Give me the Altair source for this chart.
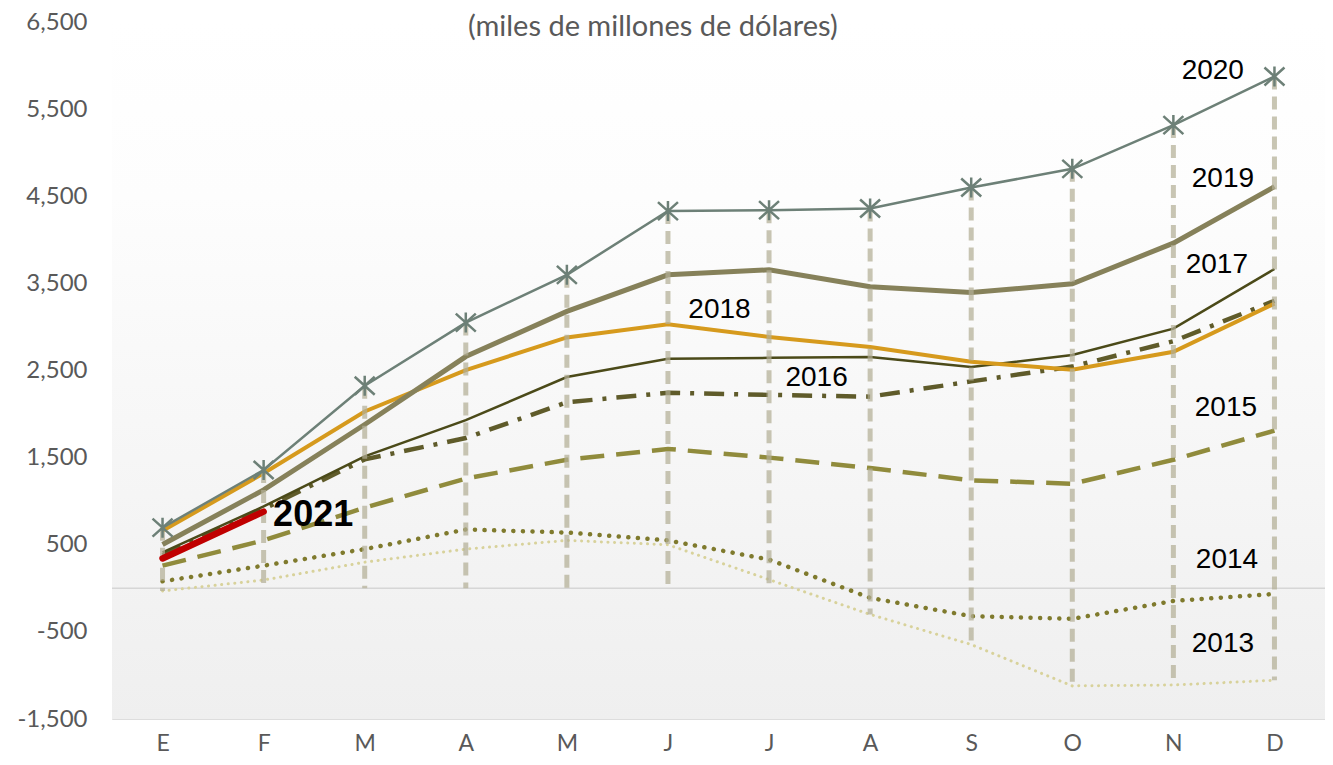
import altair as alt
import pandas as pd

# ---------------- data ----------------
months = ["E", "F", "M", "A", "M", "J", "J", "A", "S", "O", "N", "D"]

y2013 = [-30, 95, 300, 450, 550, 500, 100, -300, -645, -1120, -1110, -1055]
y2014 = [80, 260, 450, 675, 640, 550, 330, -110, -320, -350, -145, -65]
y2015 = [260, 550, 925, 1260, 1475, 1600, 1500, 1380, 1240, 1200, 1475, 1810]
y2016 = [380, 910, 1480, 1725, 2135, 2245, 2220, 2200, 2375, 2545, 2836, 3300]
y2017 = [412, 940, 1515, 1930, 2425, 2635, 2645, 2655, 2540, 2678, 2980, 3665]
y2018 = [660, 1320, 2030, 2505, 2880, 3030, 2885, 2770, 2600, 2510, 2715, 3268]
y2019 = [503, 1130, 1880, 2660, 3178, 3598, 3655, 3462, 3395, 3495, 3962, 4610]
y2020 = [696, 1358, 2325, 3050, 3598, 4330, 4340, 4360, 4600, 4815, 5317, 5875]
y2021 = [343, 880]

series = {
    "2013": y2013, "2014": y2014, "2015": y2015, "2016": y2016,
    "2017": y2017, "2018": y2018, "2019": y2019, "2020": y2020, "2021": y2021,
}

label_text = ["2020", "2019", "2017", "2018", "2016", "2015", "2014", "2013"]
label_x = [10.39, 10.49, 10.43, 5.51, 6.47, 10.52, 10.53, 10.49]
label_y = [5942, 4702, 3712, 3189, 2415, 2073, 321, -635]

label2021_x = [1.49]
label2021_y = [844]

title_text = ["(miles de millones de dólares)"]
title_x = [4.85]
title_y = [6339]

y_ticks = [-1500, -500, 500, 1500, 2500, 3500, 4500, 5500, 6500]

# ---------------- styles ----------------
W, H = 1213, 697
styles = {
    "2013": dict(color="#d8d29b", strokeWidth=3, strokeDash=[0.1, 6.5], strokeCap="round"),
    "2014": dict(color="#7f7a2d", strokeWidth=4.5, strokeDash=[0.1, 9.5], strokeCap="round"),
    "2015": dict(color="#908b3c", strokeWidth=4.5, strokeDash=[24, 12]),
    "2016": dict(color="#5f5b2a", strokeWidth=4.5, strokeDash=[20, 10, 4, 10]),
    "2017": dict(color="#4b4a19", strokeWidth=2.5),
    "2018": dict(color="#d69a1d", strokeWidth=4),
    "2019": dict(color="#86815a", strokeWidth=5),
    "2020": dict(color="#6d8077", strokeWidth=2.5),
    "2021": dict(color="#c00000", strokeWidth=6.5, strokeCap="round"),
}

xscale = alt.Scale(domain=[-0.5, 11.5], nice=False, zero=False)
yscale = alt.Scale(domain=[-1500, 6500], nice=False, zero=False)

label_expr = "[" + ",".join("'%s'" % m for m in months) + "][datum.value]"

x_axis = alt.Axis(values=list(range(12)), labelExpr=label_expr, labelPadding=13,
                  labelFontSize=23, title=None, labelAngle=0)
y_axis = alt.Axis(values=y_ticks,
                  labelExpr="(datum.value < 0 ? '-' : '') + format(abs(datum.value), ',')",
                  labelPadding=25, labelFontSize=24, title=None)


def X(field):
    return alt.X(field, scale=xscale, title=None)


def Y(field):
    return alt.Y(field, scale=yscale, title=None)


# background gradient for the plot area
bg = alt.Chart(alt.Data(values=[{}])).mark_rect(
    color=alt.LinearGradient(
        gradient="linear",
        stops=[alt.GradientStop(offset=0, color="#ffffff"),
               alt.GradientStop(offset=0.25, color="#fdfdfd"),
               alt.GradientStop(offset=1, color="#efefef")],
        x1=0, x2=0, y1=0, y2=1),
).encode(x=alt.value(0), x2=alt.value(W), y=alt.value(0), y2=alt.value(H))

# zero line (carries the y axis)
zero = alt.Chart(alt.Data(values=[{"v": 0}])).mark_rule(color="#d6d6d6", strokeWidth=1.5).encode(
    y=alt.Y("v:Q", scale=yscale, axis=y_axis),
    x=alt.value(0), x2=alt.value(W),
)


def line_layer(year):
    vals = series[year]
    df = pd.DataFrame({"i": list(range(len(vals))), "v": vals})
    return alt.Chart(df).mark_line(**styles[year]).encode(x=X("i:Q"), y=Y("v:Q"))


# drop lines from the highest series (2020) to the lowest value (or zero); carries the x axis
low = []
for k in range(12):
    m = min(series[y][k] for y in series if len(series[y]) > k)
    low.append(min(0, m))
drop_df = pd.DataFrame({"i": list(range(12)), "top": y2020, "bot": low})
drops = alt.Chart(drop_df).mark_rule(color="#b3af96", opacity=0.72, strokeWidth=5,
                                     strokeDash=[13, 7]).encode(
    x=alt.X("i:Q", scale=xscale, axis=x_axis), y=Y("top:Q"), y2="bot:Q",
)

marker_df = pd.DataFrame({"i": list(range(12)), "v": y2020})
markers = alt.Chart(marker_df).mark_point(
    shape="M-1,-0.9L1,0.9M-1,0.9L1,-0.9M0,-1L0,1", filled=False, size=400,
    strokeWidth=2.5, color="#6d8077", opacity=1,
).encode(x=X("i:Q"), y=Y("v:Q"))

lab_df = pd.DataFrame({"t": label_text, "x": label_x, "y": label_y})
labels = alt.Chart(lab_df).mark_text(font="Liberation Sans", fontSize=28, color="#000000",
                                     align="center", baseline="middle").encode(
    x=X("x:Q"), y=Y("y:Q"), text="t:N")

lab21 = alt.Chart(pd.DataFrame({"t": ["2021"], "x": label2021_x, "y": label2021_y})).mark_text(
    font="Liberation Sans", fontSize=36, fontWeight="bold", color="#000000",
    align="center", baseline="middle").encode(
    x=X("x:Q"), y=Y("y:Q"), text="t:N")

title = alt.Chart(pd.DataFrame({"t": title_text, "x": title_x, "y": title_y})).mark_text(
    font="Lato", fontSize=29, color="#595959", align="center", baseline="alphabetic").encode(
    x=X("x:Q"), y=Y("y:Q"), text="t:N")

layers = [bg, zero]
for yr in ["2013", "2014", "2015", "2016", "2017", "2018", "2019"]:
    layers.append(line_layer(yr))
layers += [drops, line_layer("2020"), markers, line_layer("2021"), labels, lab21, title]

chart = alt.layer(*layers).properties(
    width=W, height=H,
    autosize=alt.AutoSizeParams(type="none"),
    padding={"left": 104, "top": 14, "right": 0, "bottom": 38},
).configure_view(stroke=None).configure(background="#ffffff").configure_axis(
    grid=False, domain=False, ticks=False, tickSize=0,
    labelFont="Lato", labelColor="#595959",
)

chart.save("out.html", embed_options={"renderer": "svg", "actions": False})
